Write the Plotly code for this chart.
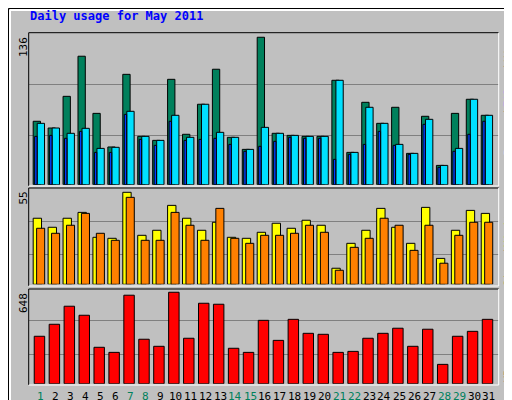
import plotly.graph_objects as go

days = list(range(1, 32))
weekend = [1, 7, 8, 14, 15, 21, 22, 28, 29]
hits = [58.5, 52.3, 81.5, 118.5, 65.8, 34.8, 101.8, 44.6, 40.9, 97.2, 46.5, 74.2, 106.5, 43.7, 32.6, 136,
        47.4, 45.5, 44.6, 44.6, 96.3, 29.8, 76, 56.6, 71.4, 28.9, 63.1, 17.8, 65.8, 78.8, 64]
pages = [56.6, 52.3, 47.4, 52, 33.5, 34.5, 67.7, 44.6, 40.9, 64, 43.7, 74.2, 48.3, 43.7, 32.6, 52.9,
         47.4, 45.5, 44.6, 44.6, 96.3, 29.8, 71.4, 56.6, 37.2, 28.9, 60.3, 17.8, 33.5, 78.8, 64]
files = [44.6, 45.5, 42.8, 49.2, 29.8, 29.8, 64.9, 41.8, 36.3, 58.5, 40.9, 41.8, 42.8, 37.2, 30.8, 35.4,
         40, 43.7, 42.8, 42.8, 23.4, 28, 37.2, 49.2, 36.3, 28, 55.7, 16, 30.8, 46.5, 58.5]
visits = [39.5, 34.1, 39.5, 43, 28.1, 27.5, 55, 29.3, 32.3, 47.2, 39.5, 32.3, 37.1, 28.1, 27.5, 31.1,
          36.5, 33.5, 38.3, 35.3, 9.6, 24.5, 32.3, 45.4, 34.1, 24.5, 46, 15.5, 32.3, 44.2, 42.4]
sites = [33.5, 30.5, 35.3, 42.4, 30.5, 26.3, 52, 26.3, 26.3, 43, 35.3, 26.3, 45.4, 27.5, 24.5, 29.3,
         29.3, 30.5, 35.3, 31.1, 8.4, 22.1, 27.5, 39.5, 35.3, 20.3, 35.3, 12.6, 29.3, 37.1, 37.1]
kbytes = [336, 421, 549, 485, 258, 222, 627, 315, 265, 648, 322, 570, 563, 251, 222, 449,
          307, 456, 357, 350, 222, 229, 322, 357, 393, 265, 386, 137, 336, 371, 456]

BG = "#C0C0C0"
FONT = "DejaVu Sans Mono"
W, H = 512, 400
def py(p): return 1 - p / H
def px(p): return p / W

fig = go.Figure()
line = dict(color="black", width=1)
def bar(y, color, off, wid, ax):
    fig.add_trace(go.Bar(x=days, y=y, marker=dict(color=color, line=line), offset=off, width=wid,
                         xaxis="x" + ax, yaxis="y" + ax, showlegend=False, hoverinfo="skip"))

bar(hits, "#00805C", -0.52, 0.49, "")
bar(pages, "#00E0FF", -0.25, 0.49, "")
bar(files, "#0040FF", -0.42, 0.16, "")
bar(visits, "#FFFF00", -0.52, 0.56, "2")
bar(sites, "#FF8000", -0.29, 0.54, "2")
bar(kbytes, "#FF0000", -0.45, 0.70, "3")

xr = [0.18, 31.65]
xd = [px(20.7), px(490.7)]
common_x = dict(range=xr, domain=xd, showgrid=False, zeroline=False, showline=False)
lay = dict(
    width=W, height=H, margin=dict(l=0, r=0, t=0, b=0), paper_bgcolor=BG, plot_bgcolor=BG,
    barmode="overlay", font=dict(family=FONT, size=11, color="black"),
    xaxis=dict(**common_x, showticklabels=False, anchor="y"),
    xaxis2=dict(**common_x, showticklabels=False, anchor="y2"),
    xaxis3=dict(**common_x, anchor="y3", showticklabels=False),
    yaxis=dict(domain=[py(176.7), py(24.7)], range=[0, 140.2], tickvals=[45.6, 92.3], showticklabels=False,
               gridcolor="#808080", gridwidth=1, zeroline=False, anchor="x"),
    yaxis2=dict(domain=[py(276.3), py(180.3)], range=[0, 57.4], tickvals=[17.9, 37.7], showticklabels=False,
                gridcolor="#808080", gridwidth=1, zeroline=False, anchor="x2"),
    yaxis3=dict(domain=[py(375.7), py(281)], range=[0, 671], tickvals=[208, 444.6], showticklabels=False,
                gridcolor="#808080", gridwidth=1, zeroline=False, anchor="x3"),
)
fig.update_layout(**lay)

shapes = []
def ln(x0, y0, x1, y1, c, w=1):
    shapes.append(dict(type="line", xref="paper", yref="paper", x0=px(x0), y0=py(y0), x1=px(x1), y1=py(y1),
                       line=dict(color=c, width=w)))
ln(0.5, 0.5, 511.5, 0.5, "black"); ln(0.5, 0.5, 0.5, 399.5, "black")
ln(511.5, 0.5, 511.5, 399.5, "black"); ln(0.5, 399.5, 511.5, 399.5, "black")
ln(2, 2, 509, 2, "white", 2); ln(2, 2, 2, 397, "white", 2)
ln(510, 3, 510, 398, "#808080", 2); ln(3, 398, 510, 398, "#808080", 2)
for t, b in [(24.7, 178), (180, 278), (281, 377)]:
    ln(20.7, t, 490.7, t, "black"); ln(20.7, t, 20.7, b, "black")
    ln(20.7, b, 490.7, b, "white"); ln(490.7, t, 490.7, b, "white")
fig.update_layout(shapes=shapes)

ann = [
    dict(x=px(20), y=py(8), text="<b>Daily usage for May 2011</b>", xanchor="left", yanchor="middle",
         font=dict(family=FONT, size=12, color="#0000FF")),
    dict(x=px(15), y=py(27), text="136", textangle=-90, xanchor="center", yanchor="top"),
    dict(x=px(15), y=py(182), text="55", textangle=-90, xanchor="center", yanchor="top"),
    dict(x=px(15), y=py(283), text="648", textangle=-90, xanchor="center", yanchor="top"),
]
# right-side rotated labels: (text, color, top_px, bottom_px)
for txt, col, top, bot in [("Hits", "#00805C", 27, 55), ("/", "black", 56, 65), ("Files", "#0040FF", 66, 101),
                           ("/", "black", 101, 110), ("Pages", "#00E0FF", 111, 152),
                           ("Visits", "#FFFF00", 198, 240), ("/", "black", 240, 249), ("Sites", "#FF8000", 249, 276),
                           ("KBytes", "#FF0000", 333, 376)]:
    ann.append(dict(x=px(500), y=py((top + bot) / 2), text=txt, textangle=-90, xanchor="center",
                    yanchor="middle", font=dict(family=FONT, size=11, color=col)))
for d in days:
    ann.append(dict(x=d, xref="x3", y=py(388), text=str(d), xanchor="center", yanchor="middle",
                    font=dict(family=FONT, size=11, color="#00805C" if d in weekend else "black")))
for a in ann:
    a.setdefault("xref", "paper")
    a.update(yref="paper", showarrow=False)
    a.setdefault("font", dict(family=FONT, size=11, color="black"))
fig.update_layout(annotations=ann)

fig.write_html("out.html")
